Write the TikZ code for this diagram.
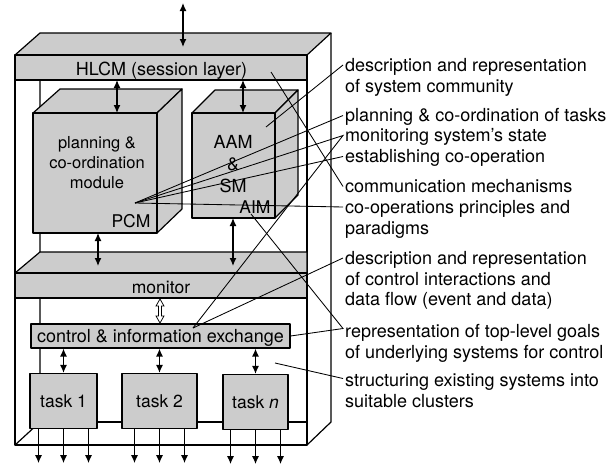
\documentclass[tikz,border=0pt]{standalone}
\usepackage{fontspec}
\setmainfont{TeX Gyre Heros}
\usetikzlibrary{arrows.meta,calc}
\newcommand\cstack[1]{\vtop{\halign{\hfil##\hfil\cr#1\crcr}}}
\newcommand\lstack[1]{\vtop{\halign{##\hfil\cr#1\crcr}}}
\begin{document}
\begin{tikzpicture}[x=1pt,y=-1pt,
  shaded/.style={fill=black!20},
  edge/.style={line width=1.2pt, line join=round},
  face/.style={shaded, draw, edge},
  box/.style={face, inner sep=0pt, font=\fontsize{17.5}{20}\selectfont, text height=12.5pt, text depth=0pt},
  lbl/.style={font=\fontsize{18}{20.5}\selectfont, anchor=base west, inner sep=0pt},
  txt/.style={font=\fontsize{17.5}{20.5}\selectfont, inner sep=0pt, anchor=base},
  lead/.style={line width=0.85pt},
  dbl/.style={{Latex[length=8pt,width=7pt]}-{Latex[length=8pt,width=7pt]}, line width=1.3pt},
  outarr/.style={-{Latex[length=8pt,width=7pt]}, line width=1.2pt},
]
\useasboundingbox (0,0) rectangle (615,466);

% outer cube corners
\coordinate (oFLT) at (15,55);  \coordinate (oFRT) at (307,55);
\coordinate (oBLT) at (40,33);  \coordinate (oBRT) at (331,33);
\coordinate (oFLB) at (15,445); \coordinate (oFRB) at (307,445);
\coordinate (oBLB) at (40,422); \coordinate (oBRB) at (331,422);
\draw[edge] (oBLT) -- (oBLB) -- (oFLB);
\draw[edge] (oBLB) -- (oFRB |- oBLB);
\draw[edge] (oBRT) -- (oBRB) -- (oFRB);
\draw[edge] (oFLT) -- (oFLB) -- (oFRB) -- (oFRT);
% top face and HLCM band
\draw[face] (oFLT) -- (oBLT) -- (oBRT) -- (oFRT) -- cycle;
\draw[face] (oFLT) rectangle (307,80);
\node[txt, font=\fontsize{18}{20}\selectfont] (hlcm) at (161.5,75) {HLCM (session layer)};

% PCM cube
\draw[face] (33,113) -- (60,89) -- (182,89) -- (157,113) -- cycle;
\draw[face] (157,113) -- (182,89) -- (182,209) -- (157,233) -- cycle;
\draw[face] (33,113) rectangle (157,233);
\node[txt, font=\fontsize{16.5}{20}\selectfont] (pcmtext) at (97,148) {\cstack{planning \&\cr co-ordination\cr module}};
\node[txt] (pcm) at (131,227) {PCM};

% AAM cube
\draw[face] (192,113) -- (215,90) -- (298,90) -- (275,113) -- cycle;
\draw[face] (275,113) -- (298,90) -- (298,195) -- (275,218) -- cycle;
\draw[face] (192,113) rectangle (275,218);
\node[txt, font=\fontsize{18}{22}\selectfont] (aam) at (233,148) {\cstack{AAM\cr \&\cr SM}};
\node[txt] (aim) at (255,213) {AIM};

% monitor slab
\draw[face] (15,273) -- (40,252) -- (307,252) -- (307,273) -- cycle;
\draw[face] (15,273) rectangle (307,298);
\node[txt] (mon) at (161,293) {monitor};

% control box and tasks
\node[box, font=\fontsize{18}{20}\selectfont, minimum width=259pt, minimum height=24pt] (ctrl) at (160.5,336) {control \& information exchange};
\node[box, minimum width=67pt, minimum height=55pt] (t1) at (63.5,401) {task 1};
\node[box, minimum width=75pt, minimum height=55pt] (t2) at (159.5,401) {task 2};
\node[box, minimum width=65pt, minimum height=55pt] (tn) at (255.5,402) {task \textit{n}};

% arrows
\coordinate (topA) at (183,3);  \coordinate (topB) at (183,47);
\draw[dbl] (topA) -- (topB);
\coordinate (h1) at (117,80);  \coordinate (p1) at (117,113);
\draw[dbl] (h1) -- (p1);
\coordinate (h2) at (243,80);  \coordinate (a1) at (243,113);
\draw[dbl] (h2) -- (a1);
\coordinate (p2) at (98,233);  \coordinate (m1) at (98,266);
\draw[dbl] (p2) -- (m1);
\coordinate (a2) at (233,218); \coordinate (m2) at (233,266);
\draw[dbl] (a2) -- (m2);
\foreach \t in {t1,t2,tn} \draw[dbl] (ctrl.south -| \t.north) -- (\t.north);
\foreach \t in {t1,t2,tn} {
  \foreach \d [count=\i] in {-25,0,25} {
    \coordinate (\t o\i) at ($(\t.south)+(\d,34)$);
    \draw[outarr] (\t.south -| \t o\i) -- (\t o\i);
  }
}
% hollow double arrow monitor <-> control
\coordinate (hm) at (160,311);
\draw[fill=white, line width=0.7pt, line join=miter, shift={(hm)}]
  (0,-12) -- (4,-5) -- (1.5,-5) -- (1.5,5) -- (4,5) -- (0,12) -- (-4,5) -- (-1.5,5) -- (-1.5,-5) -- (-4,-5) -- cycle;

% labels
\node[lbl] (L1) at (345,71.5) {\lstack{description and representation\cr of system community}};
\node[lbl] (L2) at (345,121.5) {planning \& co-ordination of tasks};
\node[lbl] (L3) at (345,141.5) {monitoring system's state};
\node[lbl] (L4) at (345,162.5) {establishing co-operation};
\node[lbl] (L5) at (345,192.5) {communication mechanisms};
\node[lbl] (L6) at (345,213.5) {\lstack{co-operations principles and\cr paradigms}};
\node[lbl] (L7) at (345,264.5) {\lstack{description and representation\cr of control interactions and\cr data flow (event and data)}};
\node[lbl] (L8) at (345,337.5) {\lstack{representation of top-level goals\cr of underlying systems for control}};
\node[lbl] (L9) at (345,386.5) {\lstack{structuring existing systems into\cr suitable clusters}};

% leader end points
\coordinate (P) at (135,203);
\coordinate (C) at (193,328);
\coordinate (Q) at (266,127);
\coordinate (H) at (271,72);
\coordinate (A) at (251,214);
\coordinate (S) at (275,363);
\foreach \l/\u in {L1/6.5,L2/6,L3/6,L4/6,L5/6,L6/6.5,L7/6.5,L8/9,L9/8}
  \coordinate (\l tip) at ($(\l.base west)+(-2,-\u)$);

\draw[lead] (Q) -- (L1tip);
\draw[lead] (P) -- (L2tip);
\draw[lead] (P) -- (L3tip) -- (C);
\draw[lead] (P) -- (L4tip);
\draw[lead] (H) -- (L5tip);
\draw[lead] (P) -- (L6tip);
\draw[lead] (C) -- (L7tip);
\draw[lead] (A) -- (L8tip) -- (ctrl.east);
\draw[lead] (S) -- (L9tip);
\end{tikzpicture}
\end{document}
